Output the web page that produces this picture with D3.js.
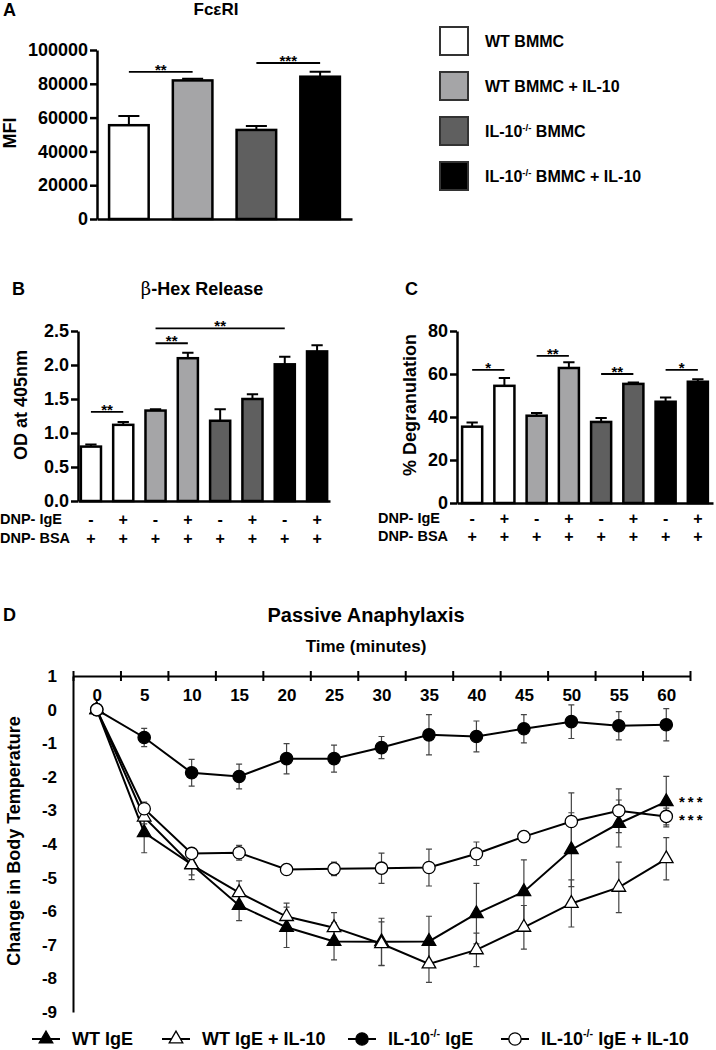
<!DOCTYPE html>
<html>
<head>
<meta charset="utf-8">
<script src="https://cdn.jsdelivr.net/npm/d3@7"></script>
<style>
  body { margin: 0; background: #fff; }
  svg { font-family: "Liberation Sans", Arial, sans-serif; font-weight: bold; }
</style>
</head>
<body>
<div id="chart"></div>
<script>
// ---- data ----
const groups = ["WT BMMC", "WT BMMC + IL-10", "IL-10-/- BMMC", "IL-10-/- BMMC + IL-10"];
const groupFills = ["#ffffff", "#a5a5a7", "#5f5f5f", "#000000"];

// A: FceRI MFI
const mfiMean = [55500, 82000, 52700, 84200];
const mfiSem = [5500, 1000, 2300, 3000];
const mfiTicks = [0, 20000, 40000, 60000, 80000, 100000];
const mfiSig = [{ a: 0, b: 1, v: 87000, s: "**" }, { a: 2, b: 3, v: 92300, s: "***" }];

// B: beta-hex release, 8 conditions (2 per group)
const igeSigns = ["-", "+", "-", "+", "-", "+", "-", "+"];
const bsaSigns = ["+", "+", "+", "+", "+", "+", "+", "+"];
const hexMean = [0.80, 1.12, 1.33, 2.10, 1.18, 1.50, 2.01, 2.20];
const hexSem = [0.03, 0.04, 0.02, 0.08, 0.17, 0.07, 0.11, 0.09];
const hexTicks = [0, 0.5, 1.0, 1.5, 2.0, 2.5];
const hexSig = [{ a: 0, b: 1, v: 1.31, s: "**" }, { a: 2, b: 3, v: 2.32, s: "**" }, { a: 2, b: 6, v: 2.54, s: "**" }];

// C: % degranulation
const degMean = [35.5, 54.5, 40.6, 62.8, 37.7, 55.4, 47.1, 56.4];
const degSem = [2.0, 3.6, 1.3, 2.7, 1.8, 0.7, 2.0, 1.2];
const degTicks = [0, 20, 40, 60, 80];
const degSig = [{ a: 0, b: 1, v: 61.9, s: "*" }, { a: 2, b: 3, v: 68.4, s: "**" }, { a: 4, b: 5, v: 60.0, s: "**" }, { a: 6, b: 7, v: 61.9, s: "*" }];

// D: passive anaphylaxis, change in body temperature
const times = [0, 5, 10, 15, 20, 25, 30, 35, 40, 45, 50, 55, 60];
const wtIgE = [0, -3.66, -4.61, -5.83, -6.48, -6.90, -6.91, -6.90, -6.07, -5.42, -4.17, -3.39, -2.74];
const wtIgESem = [0, 0.6, 0.45, 0.45, 0.6, 0.55, 0.7, 0.75, 0.9, 0.95, 1.1, 0.7, 0.75];
const wtIgEIL10 = [0, -3.2, -4.62, -5.45, -6.16, -6.49, -6.97, -7.57, -7.15, -6.48, -5.77, -5.29, -4.44];
const wtIgEIL10Sem = [0, 0.2, 0.3, 0.35, 0.4, 0.45, 0.65, 0.55, 0.5, 0.65, 0.7, 0.75, 0.63];
const koIgE = [0, -0.83, -1.88, -1.99, -1.46, -1.46, -1.13, -0.75, -0.80, -0.57, -0.36, -0.48, -0.45];
const koIgESem = [0, 0.27, 0.4, 0.37, 0.45, 0.4, 0.33, 0.6, 0.46, 0.42, 0.5, 0.42, 0.48];
const koIgEIL10 = [0, -2.95, -4.28, -4.26, -4.76, -4.74, -4.72, -4.70, -4.29, -3.78, -3.33, -3.01, -3.18];
const koIgEIL10Sem = [0, 0.2, 0.1, 0.22, 0.05, 0.2, 0.45, 0.55, 0.35, 0.05, 0.85, 0.65, 0.25];
const tempTicks = [1, 0, -1, -2, -3, -4, -5, -6, -7, -8, -9];

const series = [
  { name: "WT IgE", vals: wtIgE, sem: wtIgESem, shape: "tri", fill: "#000" },
  { name: "WT IgE + IL-10", vals: wtIgEIL10, sem: wtIgEIL10Sem, shape: "tri", fill: "#fff" },
  { name: "IL-10-/- IgE", vals: koIgE, sem: koIgESem, shape: "circ", fill: "#000" },
  { name: "IL-10-/- IgE + IL-10", vals: koIgEIL10, sem: koIgEIL10Sem, shape: "circ", fill: "#fff" }
];

const svg = d3.select("#chart").append("svg")
  .attr("width", 716).attr("height", 1050);

svg.append("rect").attr("width", 716).attr("height", 1050).attr("fill", "#fff");

// writes "IL-10-/- ..." with a superscript -/-
function labelText(sel, str) {
  const parts = str.split("-/-");
  sel.text(null);
  sel.append("tspan").text(parts[0]);
  if (parts.length > 1) {
    sel.append("tspan").attr("dy", -6).attr("font-size", "0.6em").text("-/-");
    sel.append("tspan").attr("dy", 6).text(parts[1]);
  }
}

function rotLabel(x, y, txt, size) {
  svg.append("text")
    .attr("transform", `translate(${x},${y}) rotate(-90)`)
    .attr("text-anchor", "middle").attr("dominant-baseline", "central")
    .attr("font-size", size).text(txt);
}

// generic bar panel
function barPanel(o) {
  const x = d3.scaleBand().domain(d3.range(o.mean.length))
    .range(o.xr).paddingInner(o.pIn).paddingOuter(o.pOut);
  const y = d3.scaleLinear().domain(o.yd).range(o.yr);
  const g = svg.append("g");

  // error bars (upward only)
  const capW = x.bandwidth() * 0.5;
  g.selectAll(".err").data(o.mean).enter().append("path")
    .attr("d", (d, i) => {
      const cx = x(i) + x.bandwidth() / 2, top = y(d + o.sem[i]);
      return `M${cx},${y(d)}V${top}M${cx - capW / 2},${top}H${cx + capW / 2}`;
    })
    .attr("stroke", "#000").attr("stroke-width", 2).attr("fill", "none");

  g.selectAll(".bar").data(o.mean).enter().append("rect")
    .attr("x", (d, i) => x(i) + 1.25)
    .attr("y", d => y(d))
    .attr("width", x.bandwidth() - 2.5)
    .attr("height", d => y(0) - y(d))
    .attr("fill", (d, i) => o.fill[i])
    .attr("stroke", "#000").attr("stroke-width", 2.5);

  // y axis
  const ya = g.append("g").attr("transform", `translate(${o.xr[0]},0)`)
    .call(d3.axisLeft(y).tickValues(o.ticks).tickSize(7).tickSizeOuter(0).tickPadding(2)
      .tickFormat(o.fmt));
  ya.selectAll("line, path").attr("stroke", "#000").attr("stroke-width", 2.5);
  ya.selectAll("text").attr("font-size", 18).attr("font-family", null).attr("fill", "#000");

  // baseline
  const xa = g.append("g").attr("transform", `translate(0,${y(0)})`)
    .call(d3.axisBottom(x).tickSize(0).tickSizeOuter(0).tickFormat(""));
  xa.select("path").attr("stroke", "#000").attr("stroke-width", 2.5);

  // significance brackets
  o.sig.forEach(s => {
    const x1 = x(s.a) + x.bandwidth() / 2, x2 = x(s.b) + x.bandwidth() / 2, yy = y(s.v);
    g.append("line").attr("x1", x1).attr("x2", x2).attr("y1", yy).attr("y2", yy)
      .attr("stroke", "#000").attr("stroke-width", 1.8);
    g.append("text").attr("x", (x1 + x2) / 2).attr("y", yy + 3)
      .attr("text-anchor", "middle").attr("font-size", 15).text(s.s);
  });

  // treatment rows
  if (o.rows) {
    o.rows.forEach(r => {
      g.append("text").attr("x", r.lx).attr("y", r.y).attr("dominant-baseline", "central")
        .attr("font-size", 14.5).text(r.label);
      g.selectAll(null).data(r.signs).enter().append("text")
        .attr("x", (d, i) => x(i) + x.bandwidth() / 2)
        .attr("y", r.y).attr("dominant-baseline", "central")
        .attr("text-anchor", "middle").attr("font-size", 16).text(d => d);
    });
  }
  return { x, y };
}

// ---- Panel A ----
svg.append("text").attr("x", 3).attr("y", 16).attr("font-size", 18).text("A");
svg.append("text").attr("x", 216).attr("y", 15).attr("text-anchor", "middle").attr("font-size", 17).text("FcεRI");
rotLabel(10, 133, "MFI", 18);
barPanel({
  mean: mfiMean, sem: mfiSem, fill: groupFills, xr: [97, 352], pIn: 0.34, pOut: 0.17,
  yd: [0, 100000], yr: [219, 50], ticks: mfiTicks, fmt: d3.format("d"), sig: mfiSig
});

// legend for A-C
const leg = svg.append("g");
groups.forEach((gname, i) => {
  const yy = 27 + i * 45;
  leg.append("rect").attr("x", 440).attr("y", yy).attr("width", 28).attr("height", 28)
    .attr("fill", groupFills[i]).attr("stroke", "#333").attr("stroke-width", 2);
  leg.append("text").attr("x", 485).attr("y", yy + 20).attr("font-size", 16)
    .call(labelText, gname);
});

// ---- Panel B ----
const pairFill = d3.range(8).map(i => groupFills[Math.floor(i / 2)]);
svg.append("text").attr("x", 12).attr("y", 295).attr("font-size", 18).text("B");
const tB = svg.append("text").attr("x", 202).attr("y", 295).attr("text-anchor", "middle").attr("font-size", 18);
tB.append("tspan").attr("font-family", "'DejaVu Serif', serif").attr("font-weight", "normal").text("β");
tB.append("tspan").text("-Hex Release");
rotLabel(21, 405, "OD at 405nm", 18);
barPanel({
  mean: hexMean, sem: hexSem, fill: pairFill, xr: [78, 330], pIn: 0.3, pOut: 0.05,
  yd: [0, 2.5], yr: [501, 331], ticks: hexTicks, fmt: d3.format(".1f"), sig: hexSig,
  rows: [{ label: "DNP- IgE", signs: igeSigns, y: 519, lx: 0 }, { label: "DNP- BSA", signs: bsaSigns, y: 538, lx: 0 }]
});

// ---- Panel C ----
svg.append("text").attr("x", 405).attr("y", 295).attr("font-size", 18).text("C");
rotLabel(410, 405, "% Degranulation", 18);
barPanel({
  mean: degMean, sem: degSem, fill: pairFill, xr: [457, 713], pIn: 0.3, pOut: 0.12,
  yd: [0, 80], yr: [503, 331], ticks: degTicks, fmt: d3.format("d"), sig: degSig,
  rows: [{ label: "DNP- IgE", signs: igeSigns, y: 518, lx: 378 }, { label: "DNP- BSA", signs: bsaSigns, y: 536, lx: 378 }]
});

// ---- Panel D ----
svg.append("text").attr("x", 3).attr("y", 621).attr("font-size", 18).text("D");
svg.append("text").attr("x", 366).attr("y", 622).attr("text-anchor", "middle").attr("font-size", 20).text("Passive Anaphylaxis");
svg.append("text").attr("x", 366).attr("y", 652).attr("text-anchor", "middle").attr("font-size", 17).text("Time (minutes)");
rotLabel(14, 841, "Change in Body Temperature", 18);

const xD = d3.scaleLinear().domain([-2.5, 62.5]).range([73, 690]);
const yD = d3.scaleLinear().domain([-9, 1]).range([1012, 676]);

// top axis line with crossing ticks
const xTop = svg.append("g").attr("transform", `translate(0,${yD(1)})`)
  .call(d3.axisBottom(xD).tickValues(d3.range(-2.5, 63, 5)).tickSize(10).tickSizeOuter(0).tickFormat(""));
xTop.selectAll("line").attr("y1", -5).attr("y2", 5);
xTop.selectAll("line, path").attr("stroke", "#000").attr("stroke-width", 2);

// time labels under the axis line
const xLab = svg.append("g").attr("transform", "translate(0,695)")
  .call(d3.axisBottom(xD).tickValues(times).tickSize(0).tickFormat(d => String(d)));
xLab.select(".domain").remove();
xLab.selectAll("text").attr("y", 0).attr("dy", "0.35em").attr("font-size", 17)
  .attr("font-family", null).attr("fill", "#000");

const yAx = svg.append("g").attr("transform", `translate(${xD(-2.5)},0)`)
  .call(d3.axisLeft(yD).tickValues(tempTicks).tickSize(0).tickSizeOuter(0).tickPadding(16)
    .tickFormat(d => String(d)));
yAx.select(".domain").attr("stroke", "#000").attr("stroke-width", 2);
yAx.selectAll("text").attr("font-size", 17).attr("font-family", null).attr("fill", "#000");

const triSym = d3.symbol(d3.symbolTriangle, 80);
const circSym = d3.symbol(d3.symbolCircle, 120);

function marker(sel, s) {
  sel.attr("d", s.shape === "tri" ? triSym() : circSym())
    .attr("fill", s.fill).attr("stroke", "#000").attr("stroke-width", 1.3);
}

const line = d3.line().x((d, i) => xD(times[i])).y(d => yD(d));
const plot = svg.append("g");

series.forEach(s => {
  const g = plot.append("g");
  g.selectAll(".eb").data(s.vals).enter().append("path")
    .attr("d", (d, i) => {
      const cx = xD(times[i]), lo = yD(d - s.sem[i]), hi = yD(d + s.sem[i]);
      return `M${cx},${hi}V${lo}M${cx - 3},${hi}H${cx + 3}M${cx - 3},${lo}H${cx + 3}`;
    })
    .attr("stroke", "#444").attr("stroke-width", 1.2).attr("fill", "none");
  g.append("path").datum(s.vals).attr("d", line)
    .attr("fill", "none").attr("stroke", "#000").attr("stroke-width", 2);
});
series.forEach(s => {
  plot.append("g").selectAll(".m").data(s.vals).enter().append("path")
    .attr("transform", (d, i) => `translate(${xD(times[i])},${yD(d)})`)
    .call(marker, s);
});

// stars at the end of the curves
svg.append("text").attr("x", 679).attr("y", 807).attr("font-size", 15).attr("letter-spacing", 3).text("***");
svg.append("text").attr("x", 679).attr("y", 825).attr("font-size", 15).attr("letter-spacing", 3).text("***");

// legend for D
const legX = [32, 162, 348, 501];
series.forEach((s, i) => {
  const g = svg.append("g").attr("transform", `translate(${legX[i]},1039)`);
  g.append("line").attr("x1", 0).attr("x2", 28).attr("stroke", "#000").attr("stroke-width", 2);
  g.append("path").attr("transform", "translate(14,0)").call(marker, s);
  g.append("text").attr("x", 40).attr("dominant-baseline", "central").attr("font-size", 18)
    .call(labelText, s.name);
});
</script>
</body>
</html>
